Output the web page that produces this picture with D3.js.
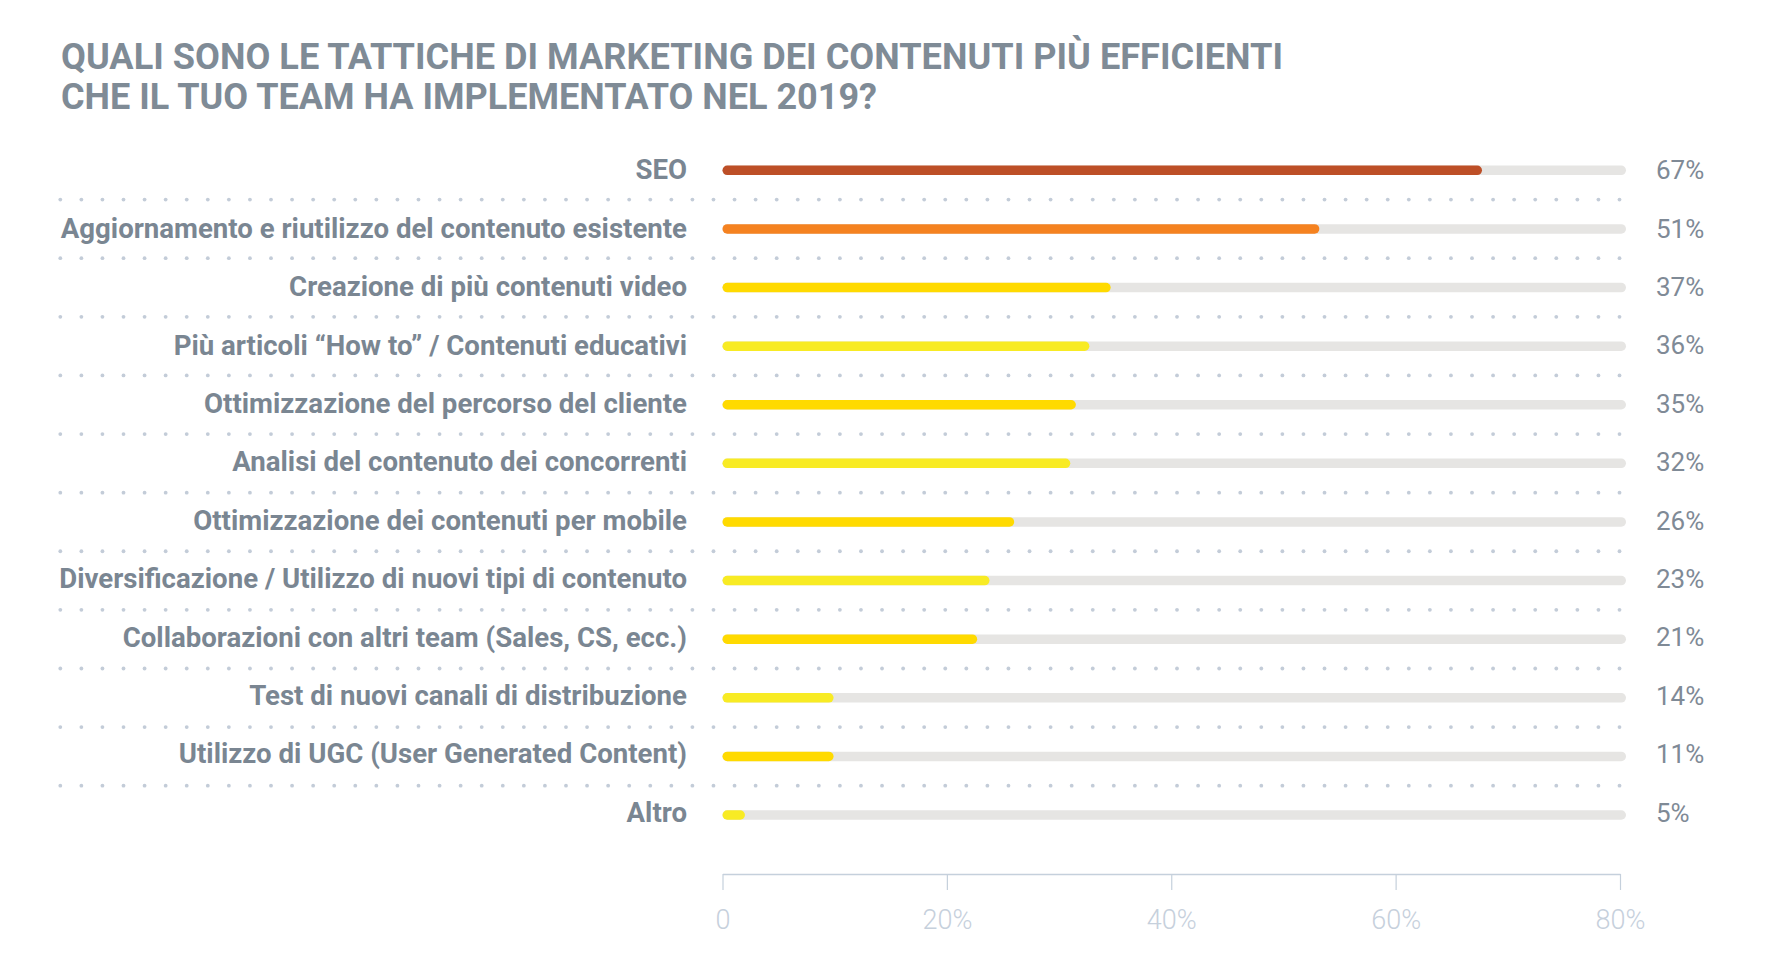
<!DOCTYPE html>
<html>
<head>
<meta charset="utf-8">
<script src="https://cdn.jsdelivr.net/npm/d3@7"></script>
<style>
  html, body { margin: 0; padding: 0; background: #ffffff; }
  svg { display: block; }
  text { font-family: Roboto, "Noto Sans", sans-serif; }
</style>
</head>
<body>
<svg id="chart" width="1770" height="972"></svg>
<script>
// ---- data ----
const titleLines = [
  "QUALI SONO LE TATTICHE DI MARKETING DEI CONTENUTI PIÙ EFFICIENTI",
  "CHE IL TUO TEAM HA IMPLEMENTATO NEL 2019?"
];
const categories = [
  "SEO",
  "Aggiornamento e riutilizzo del contenuto esistente",
  "Creazione di più contenuti video",
  "Più articoli “How to” / Contenuti educativi",
  "Ottimizzazione del percorso del cliente",
  "Analisi del contenuto dei concorrenti",
  "Ottimizzazione dei contenuti per mobile",
  "Diversificazione / Utilizzo di nuovi tipi di contenuto",
  "Collaborazioni con altri team (Sales, CS, ecc.)",
  "Test di nuovi canali di distribuzione",
  "Utilizzo di UGC (User Generated Content)",
  "Altro"
];
// printed percentages
const labelValues = [67, 51, 37, 36, 35, 32, 26, 23, 21, 14, 11, 5];
// bar extents as drawn in the picture (percent on the axis scale)
const barValues = [67.7, 53.2, 34.6, 32.7, 31.5, 31.0, 26.0, 23.8, 22.7, 9.9, 9.9, 2.0];
const barColors = ["#BD4F27", "#F58220", "#FFDA00", "#F8EB24", "#FFDA00", "#F8EB24",
                   "#FFDA00", "#F8EB24", "#FFDA00", "#F8EB24", "#FFDA00", "#F8EB24"];
const tickValues = [0, 20, 40, 60, 80];
const tickLabels = ["0", "20%", "40%", "60%", "80%"];

// ---- layout ----
const svg = d3.select("#chart");
const x = d3.scaleLinear().domain([0, 80]).range([722.5, 1620]);
const y = d3.scalePoint().domain(categories).range([170.3, 815]);
const rowStep = y.step();
const barH = 9.5;

// title
const titleWidths = [1222, 816];
svg.append("g").selectAll("text")
  .data(titleLines)
  .join("text")
  .attr("x", 61)
  .attr("y", (d, i) => 69 + i * 39.5)
  .attr("font-size", 37)
  .attr("font-weight", 700)
  .attr("fill", "#7F8B96")
  .attr("textLength", (d, i) => titleWidths[i])
  .attr("lengthAdjust", "spacingAndGlyphs")
  .text(d => d);

// dotted separators
const sepYs = categories.slice(1).map(c => y(c) - rowStep / 2);
const dotXs = d3.range(75).map(i => 60.3 + i * (1619.5 - 60.3) / 74);
const sepG = svg.append("g");
sepYs.forEach(sy => {
  sepG.append("g").selectAll("circle")
    .data(dotXs)
    .join("circle")
    .attr("cx", d => d)
    .attr("cy", sy)
    .attr("r", 1.9)
    .attr("fill", "#C3CCD8");
});

// tracks
const trackEnd = x.range()[1] + 6;
svg.append("g").selectAll("rect")
  .data(categories)
  .join("rect")
  .attr("x", x(0))
  .attr("y", d => y(d) - barH / 2)
  .attr("width", trackEnd - x(0))
  .attr("height", barH)
  .attr("rx", barH / 2)
  .attr("fill", "#E6E5E3");

// bars
svg.append("g").selectAll("rect")
  .data(categories)
  .join("rect")
  .attr("x", x(0))
  .attr("y", d => y(d) - barH / 2)
  .attr("width", (d, i) => x(barValues[i]) - x(0))
  .attr("height", barH)
  .attr("rx", barH / 2)
  .attr("fill", (d, i) => barColors[i]);

// category labels
svg.append("g").selectAll("text")
  .data(categories)
  .join("text")
  .attr("x", 687)
  .attr("y", (d, i) => y(d) + 9 - i * 0.2)
  .attr("text-anchor", "end")
  .attr("font-size", 27.6)
  .attr("font-weight", 700)
  .attr("fill", "#7A8692")
  .text(d => d);

// value labels
svg.append("g").selectAll("text")
  .data(categories)
  .join("text")
  .attr("x", 1656)
  .attr("y", (d, i) => y(d) + 8.8 - i * 0.2)
  .attr("font-size", 26)
  .attr("font-weight", 400)
  .attr("fill", "#7F8A96")
  .text((d, i) => labelValues[i] + "%");

// x axis
const axis = d3.axisBottom(x)
  .tickValues(tickValues)
  .tickFormat((d, i) => tickLabels[i])
  .tickSize(16)
  .tickSizeOuter(0)
  .tickPadding(20);
const ax = svg.append("g")
  .attr("transform", "translate(0,874)")
  .call(axis);
ax.select(".domain").attr("stroke", "#C5D0DC").attr("stroke-width", 1.5);
ax.selectAll(".tick line").attr("stroke", "#C5D0DC").attr("stroke-width", 1.2);
ax.selectAll(".tick text")
  .attr("fill", "#C6D0DC")
  .attr("font-size", 27)
  .attr("font-weight", 300)
  .attr("font-family", "Roboto, sans-serif");
</script>
</body>
</html>
